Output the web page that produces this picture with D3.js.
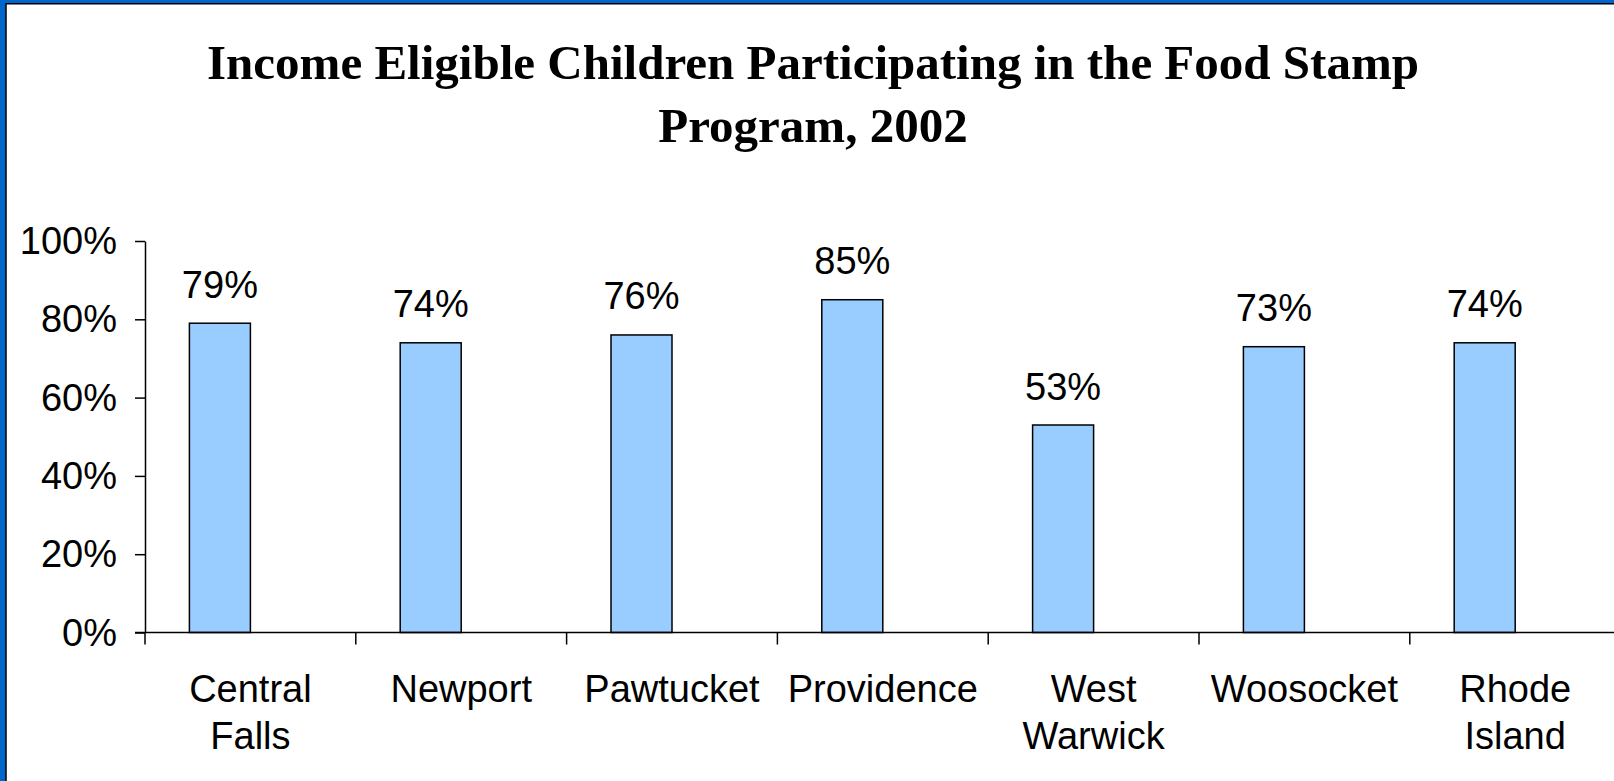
<!DOCTYPE html>
<html>
<head>
<meta charset="utf-8">
<script src="https://cdn.jsdelivr.net/npm/d3@7"></script>
<style>
  html, body { margin: 0; padding: 0; background: #0066cc; }
  svg { display: block; }
  .tick_text { font-family: "Liberation Sans", Arial, sans-serif; font-size: 38px; fill: #000; }
  .title_text { font-family: "Liberation Serif", "Times New Roman", serif; font-weight: bold; font-size: 49px; fill: #000; }
</style>
</head>
<body>
<svg id="chart" width="1614" height="781"></svg>
<script>
// データ
const categories = ['Central Falls', 'Newport', 'Pawtucket', 'Providence', 'West Warwick', 'Woosocket', 'Rhode Island'];
const values = [79, 74, 76, 85, 53, 73, 74];
const y_ticks = [0, 20, 40, 60, 80, 100];
const title_lines = ['Income Eligible Children Participating in the Food Stamp', 'Program, 2002'];

const W = 1614, H = 781;
const svg = d3.select('#chart');

// 背景（白地＋黒枠、外側は青）
svg.append('rect')
    .attr('x', 6).attr('y', 3.75)
    .attr('width', W).attr('height', H)
    .attr('fill', '#fff')
    .attr('stroke', '#000')
    .attr('stroke-width', 1.5);

// タイトル
svg.selectAll('.title_text')
    .data(title_lines)
    .enter()
    .append('text')
    .attr('class', 'title_text')
    .attr('x', 813)
    .attr('y', (d, i) => 78.5 + i * 63.3)
    .attr('text-anchor', 'middle')
    .text(d => d);

// スケール
const plot_left = 145, band_w = 210.8;
const x = d3.scaleBand()
    .domain(categories)
    .range([plot_left, plot_left + band_w * categories.length])
    .padding(0);
const y = d3.scaleLinear().domain([0, 100]).range([632.5, 241]);
const bar_w = 61;

// 棒
svg.selectAll('.bar')
    .data(values)
    .enter()
    .append('rect')
    .attr('class', 'bar')
    .attr('x', (d, i) => x(categories[i]) + x.bandwidth() / 2 - bar_w)
    .attr('y', d => y(d))
    .attr('width', bar_w)
    .attr('height', d => y(0) - y(d))
    .attr('fill', '#99ccff')
    .attr('stroke', '#000')
    .attr('stroke-width', 1.5);

// 値ラベル
svg.selectAll('.value_label')
    .data(values)
    .enter()
    .append('text')
    .attr('class', 'tick_text')
    .attr('x', (d, i) => x(categories[i]) + x.bandwidth() / 2 - bar_w / 2)
    .attr('y', d => y(d) - 25.5)
    .attr('text-anchor', 'middle')
    .text(d => d + '%');

// Y軸
const y_axis = svg.append('g')
    .attr('transform', `translate(${plot_left},0)`)
    .call(d3.axisLeft(y)
        .tickValues(y_ticks)
        .tickFormat(d => d + '%')
        .tickSize(10)
        .tickSizeOuter(0)
        .tickPadding(18));
y_axis.select('.domain').attr('stroke', '#000').attr('stroke-width', 1.5);
y_axis.selectAll('.tick line').attr('stroke', '#000').attr('stroke-width', 1.5);
y_axis.selectAll('.tick text')
    .attr('class', 'tick_text')
    .attr('font-family', null).attr('font-size', null)
    .attr('dy', '0.33em');

// X軸（右端まで伸ばす）
svg.append('line')
    .attr('x1', plot_left - 10).attr('x2', W)
    .attr('y1', y(0)).attr('y2', y(0))
    .attr('stroke', '#000').attr('stroke-width', 1.5);

// カテゴリ境界の目盛り
const boundaries = categories.map(c => x(c));
svg.selectAll('.x_tick')
    .data(boundaries)
    .enter()
    .append('line')
    .attr('x1', d => d).attr('x2', d => d)
    .attr('y1', y(0)).attr('y2', y(0) + 12)
    .attr('stroke', '#000').attr('stroke-width', 1.5);

// カテゴリラベル（2行まで）
const cat_labels = svg.selectAll('.cat_label')
    .data(categories)
    .enter()
    .append('text')
    .attr('class', 'tick_text')
    .attr('text-anchor', 'middle');
cat_labels.each(function (d) {
    const words = d.split(' ');
    const cx = x(d) + x.bandwidth() / 2;
    words.forEach((w, i) => {
        d3.select(this).append('tspan')
            .attr('x', cx)
            .attr('y', 701.5 + i * 47.7)
            .text(w);
    });
});
</script>
</body>
</html>
